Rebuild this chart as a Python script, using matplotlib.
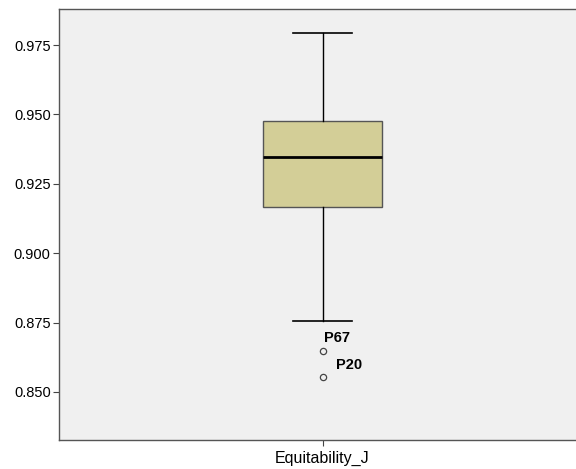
import matplotlib
matplotlib.use("Agg")
import matplotlib.pyplot as plt

plt.rcParams['font.family'] = ['Liberation Sans', 'DejaVu Sans']

# box statistics
label = "Equitability_J"
q1, med, q3 = 0.9165, 0.9345, 0.9475
whislo, whishi = 0.8757, 0.9793
outliers = [0.8648, 0.8554]
outlier_names = ["P67", "P20"]

fig = plt.figure(figsize=(5.76, 4.69), dpi=100)
ax = fig.add_axes([59/576, 29/469, 527/576, 431/469])
ax.set_facecolor("#F0F0F0")

stats = [dict(label=label, q1=q1, med=med, q3=q3, whislo=whislo, whishi=whishi, fliers=outliers)]
ax.bxp(stats, positions=[1], widths=0.452, patch_artist=True,
       boxprops=dict(facecolor="#D3CE97", edgecolor="#555555", linewidth=1),
       medianprops=dict(color="black", linewidth=2),
       whiskerprops=dict(color="black", linewidth=1),
       capprops=dict(color="black", linewidth=1.2),
       capwidths=0.224,
       flierprops=dict(marker="o", markersize=4.5, markerfacecolor="none",
                       markeredgecolor="#444444", markeredgewidth=0.9))

offsets = [(1, 9), (10, 9)]
for y, name, off in zip(outliers, outlier_names, offsets):
    ax.annotate(name, (1, y), xytext=off, textcoords="offset points",
                fontsize=10.5, fontweight="bold", ha="left", va="center")

ax.set_xlim(0, 2)
ax.set_ylim(0.8327, 0.9880)
ax.set_yticks([0.850, 0.875, 0.900, 0.925, 0.950, 0.975])
ax.set_yticklabels(["0.850", "0.875", "0.900", "0.925", "0.950", "0.975"])
ax.set_xticks([1])
ax.set_xticklabels([label])
ax.tick_params(length=4, width=0.8, color="#444444", pad=2)
ax.tick_params(axis="y", labelsize=10.5)
ax.tick_params(axis="x", labelsize=11.5, pad=4)
for s in ax.spines.values():
    s.set_color("#555555")
    s.set_linewidth(1)

fig.savefig("out.png", dpi=100)
